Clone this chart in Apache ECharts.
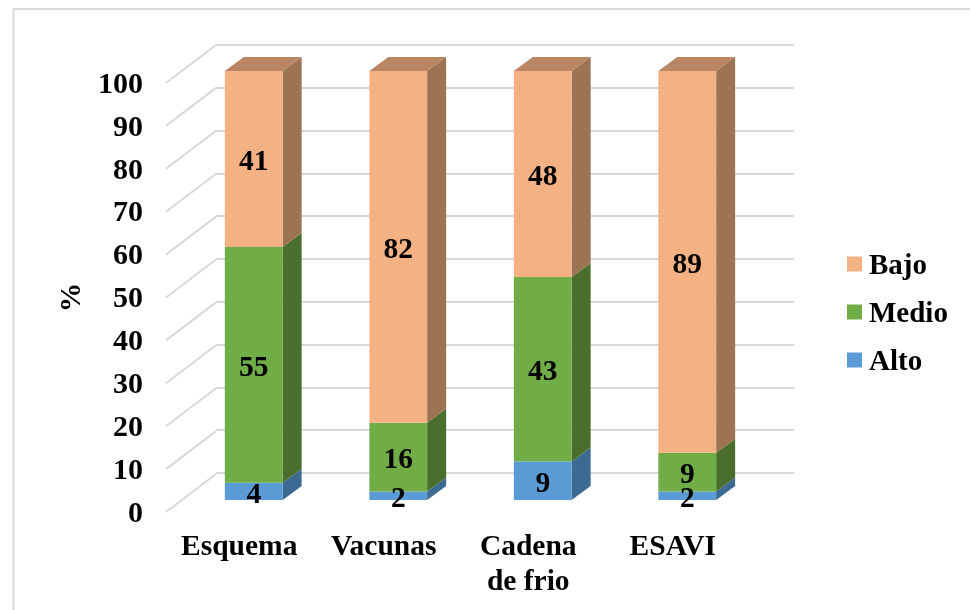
<!DOCTYPE html>
<html>
<head>
<meta charset="utf-8">
<style>html,body{margin:0;padding:0;background:#fff}#chart{width:970px;height:610px}</style>
<script src="https://cdn.jsdelivr.net/npm/echarts@6/dist/echarts.min.js"></script>
</head>
<body>
<div id="chart"></div>
<script>
const categories = ['Esquema', 'Vacunas', 'Cadena\nde frio', 'ESAVI'];
const alto = [4, 2, 9, 2];
const medio = [55, 16, 43, 9];
const bajo = [41, 82, 48, 89];
const yTicks = [0, 10, 20, 30, 40, 50, 60, 70, 80, 90, 100];

const FONT = '"Liberation Serif", "Times New Roman", serif';
const INK = '#000000';
const GRID_LINE = '#d9d9d9';

// Oblique projection: the floor runs (50, -38) px from front edge to back wall.
// The box of each column occupies the middle of that depth.
const WALL = [50, -38];
const FRONT = [15.5, -12];
const DEPTH = [19, -14];
const BAR_RATIO = 0.4;

const palette = {
  Alto:  { front: '#5b9bd5', side: '#3c6a93', top: '#4a80b0' },
  Medio: { front: '#70ad47', side: '#4a6f2d', top: '#5c8e3a' },
  Bajo:  { front: '#f4b183', side: '#9c7353', top: '#b98562' }
};

// Bottom-aligned inside a taller line box, so the glyphs sit a little lower
// and centre on their tick or legend swatch.
function droppedText(size) {
  return {
    fontFamily: FONT, fontWeight: 'bold', fontSize: size, color: INK,
    lineHeight: 34, verticalAlign: 'bottom'
  };
}

function box(name, values, bases, capped) {
  const colors = palette[name];
  return {
    name,
    type: 'custom',
    coordinateSystem: 'cartesian2d',
    xAxisIndex: 0,
    yAxisIndex: 0,
    z: 5,
    itemStyle: { color: colors.front },
    data: values.map((v, i) => [i, v, bases[i]]),
    encode: { x: 0, y: 1 },
    renderItem(params, api) {
      const i = api.value(0);
      const v = api.value(1);
      const base = api.value(2);
      const c0 = api.coord([i, base]);
      const c1 = api.coord([i, base + v]);
      const w = api.size([1, 0])[0] * BAR_RATIO;
      const xl = c0[0] - w / 2 + FRONT[0];
      const xr = xl + w;
      const yb = c0[1] + FRONT[1];
      const yt = c1[1] + FRONT[1];
      const dx = DEPTH[0];
      const dy = DEPTH[1];
      const children = [
        {
          type: 'polygon',
          shape: { points: [[xr, yb], [xr + dx, yb + dy], [xr + dx, yt + dy], [xr, yt]] },
          style: { fill: colors.side }
        },
        {
          type: 'rect',
          shape: { x: xl, y: yt, width: w, height: yb - yt },
          style: { fill: colors.front }
        }
      ];
      if (capped) {
        children.push({
          type: 'polygon',
          shape: { points: [[xl, yt], [xl + dx, yt + dy], [xr + dx, yt + dy], [xr, yt]] },
          style: { fill: colors.top }
        });
      }
      children.push({
        type: 'text',
        z2: 50,
        style: {
          x: (xl + xr) / 2,
          y: (yt + yb) / 2 + 3.5,
          text: String(v),
          align: 'center',
          verticalAlign: 'middle',
          font: 'bold 29.5px ' + FONT,
          fill: INK
        }
      });
      return { type: 'group', children };
    }
  };
}

const topOfAlto = alto.slice();
const topOfMedio = alto.map((v, i) => v + medio[i]);

const option = {
  animation: false,
  backgroundColor: '#ffffff',
  graphic: [{
    type: 'rect',
    silent: true,
    shape: { x: 13.5, y: 9, width: 1100, height: 800 },
    style: { fill: 'none', stroke: GRID_LINE, lineWidth: 2 }
  }],
  legend: {
    orient: 'vertical',
    left: 847,
    top: 252,
    padding: 0,
    itemWidth: 15,
    itemHeight: 15,
    itemGap: 19,
    icon: 'rect',
    data: ['Bajo', 'Medio', 'Alto'],
    formatter: '{t|{name}}',
    textStyle: {
      fontFamily: FONT, fontWeight: 'bold', fontSize: 29, color: INK, padding: [0, 0, 0, 2],
      rich: { t: droppedText(29) }
    }
  },
  grid: [
    // plane of the front floor edge: carries the axis labels and the columns
    { left: 166, top: 83, width: 578, height: 429 },
    // back wall: carries the horizontal gridlines
    { left: 216, top: 45, width: 578, height: 428 }
  ],
  xAxis: [
    {
      type: 'category',
      gridIndex: 0,
      data: categories,
      axisLine: { show: false },
      axisTick: { show: false },
      axisLabel: {
        fontFamily: FONT, fontWeight: 'bold', fontSize: 29.5, color: INK,
        margin: 18, lineHeight: 35, interval: 0,
        padding: [0, 0, 0, 2]
      }
    },
    { type: 'value', gridIndex: 1, min: 0, max: 1, show: false }
  ],
  yAxis: [
    {
      type: 'value',
      gridIndex: 0,
      min: 0,
      max: 100,
      interval: 10,
      name: '%',
      nameLocation: 'middle',
      nameRotate: 90,
      nameGap: 78,
      nameTextStyle: { fontFamily: FONT, fontWeight: 'bold', fontSize: 29.5, color: INK },
      axisLine: { show: false },
      axisTick: { show: false },
      splitLine: { show: false },
      axisLabel: {
        margin: 23,
        formatter: '{t|{value}}',
        rich: { t: droppedText(30) },
        customValues: yTicks
      }
    },
    {
      type: 'value',
      gridIndex: 1,
      min: 0,
      max: 100,
      interval: 10,
      axisLine: { show: false },
      axisTick: { show: false },
      axisLabel: { show: false },
      splitLine: { show: true, lineStyle: { color: GRID_LINE, width: 2 } }
    }
  ],
  series: [
    {
      // side-wall lines joining each tick to the back wall
      name: 'wall',
      type: 'custom',
      coordinateSystem: 'cartesian2d',
      xAxisIndex: 0,
      yAxisIndex: 0,
      silent: true,
      z: 1,
      data: yTicks.map(t => [0, t]),
      renderItem(params, api) {
        const y = api.coord([0, api.value(1)])[1];
        const x = params.coordSys.x;
        return {
          type: 'line',
          shape: { x1: x, y1: y, x2: x + WALL[0], y2: y + WALL[1] },
          style: { stroke: GRID_LINE, lineWidth: 2, fill: 'none' }
        };
      }
    },
    box('Alto', alto, alto.map(() => 0), false),
    box('Medio', medio, topOfAlto, false),
    box('Bajo', bajo, topOfMedio, true)
  ]
};

const chart = echarts.init(document.getElementById('chart'), null, { renderer: 'canvas' });
chart.setOption(option);
</script>
</body>
</html>
